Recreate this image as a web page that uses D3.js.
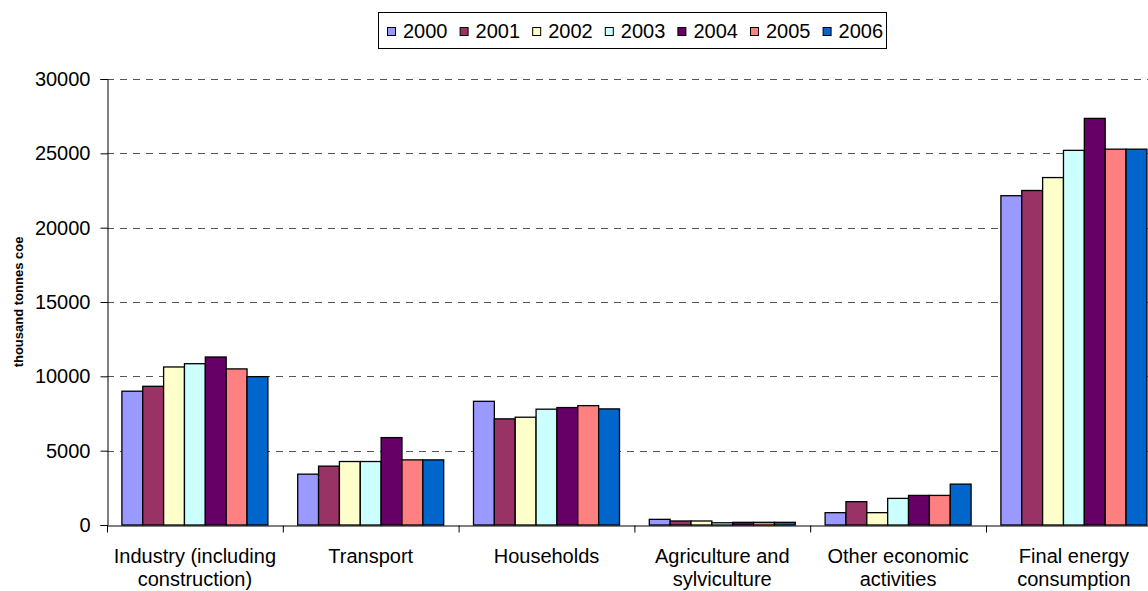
<!DOCTYPE html>
<html>
<head>
<meta charset="utf-8">
<script src="https://cdn.jsdelivr.net/npm/d3@7"></script>
<style>
  html, body { margin: 0; padding: 0; background: #fff; }
  svg { display: block; font-family: "Liberation Sans", Arial, sans-serif; }
</style>
</head>
<body>
<svg id="chart" width="1148" height="591"></svg>
<script>
// ---- data ----
const categories = [
  "Industry (including construction)",
  "Transport",
  "Households",
  "Agriculture and sylviculture",
  "Other economic activities",
  "Final energy consumption"
];
const categoryLines = [
  ["Industry (including", "construction)"],
  ["Transport"],
  ["Households"],
  ["Agriculture and", "sylviculture"],
  ["Other economic", "activities"],
  ["Final energy", "consumption"]
];
const years = ["2000", "2001", "2002", "2003", "2004", "2005", "2006"];
const v2000 = [9000, 3420, 8320, 380, 830, 22150];
const v2001 = [9330, 3960, 7140, 270, 1570, 22500];
const v2002 = [10630, 4270, 7250, 270, 830, 23370];
const v2003 = [10850, 4270, 7790, 150, 1790, 25200];
const v2004 = [11300, 5880, 7900, 180, 1990, 27350];
const v2005 = [10500, 4380, 8030, 180, 1990, 25280];
const v2006 = [9980, 4380, 7810, 180, 2750, 25280];
const seriesValues = [v2000, v2001, v2002, v2003, v2004, v2005, v2006];
const colors = ["#9999FF", "#993366", "#FFFFCC", "#CCFFFF", "#660066", "#FF8080", "#0066CC"];
const yTicks = [0, 5000, 10000, 15000, 20000, 25000, 30000];
const yLabel = "thousand tonnes coe";

// ---- layout ----
const svg = d3.select("#chart");
const plotLeft = 107, plotTop = 79, plotBottom = 525;
const catStep = 175.8;
const plotRight = plotLeft + catStep * categories.length;

const x0 = d3.scaleBand().domain(categories).range([plotLeft, plotRight]).paddingInner(0).paddingOuter(0);
const groupPad = 14.9;
const x1 = d3.scaleBand().domain(years).range([groupPad, x0.bandwidth() - groupPad]).padding(0);
const y = d3.scaleLinear().domain([0, 30000]).range([plotBottom, plotTop]);

// gridlines
svg.append("g")
  .selectAll("line")
  .data(yTicks.filter(d => d > 0))
  .join("line")
  .attr("x1", plotLeft).attr("x2", 1148)
  .attr("y1", d => Math.round(y(d)) + 0.5).attr("y2", d => Math.round(y(d)) + 0.5)
  .attr("stroke", "#555")
  .attr("stroke-width", 1)
  .attr("stroke-dasharray", "7,6");

// bars
const data = [];
categories.forEach((c, ci) => {
  years.forEach((yr, si) => {
    data.push({ cat: c, year: yr, value: seriesValues[si][ci], color: colors[si] });
  });
});
svg.append("g")
  .selectAll("rect")
  .data(data)
  .join("rect")
  .attr("x", d => x0(d.cat) + x1(d.year))
  .attr("y", d => y(d.value))
  .attr("width", x1.bandwidth())
  .attr("height", d => y(0) - y(d.value))
  .attr("fill", d => d.color)
  .attr("stroke", "#000")
  .attr("stroke-width", 1.3);

// y axis
const yAxis = d3.axisLeft(y).tickValues(yTicks).tickSize(7).tickPadding(10).tickFormat(d3.format("d"));
const gy = svg.append("g").attr("transform", `translate(${plotLeft + 0.5},0)`).call(yAxis);
gy.select(".domain").attr("stroke", "#000");
gy.selectAll(".tick line").attr("stroke", "#000");
gy.selectAll(".tick text").attr("font-size", 20).attr("fill", "#000")
  .attr("font-family", "'Liberation Sans', Arial, sans-serif");

// x axis (ticks at category boundaries)
const xb = d3.scaleLinear().domain([0, categories.length]).range([plotLeft, plotRight]);
const xAxis = d3.axisBottom(xb).tickValues(d3.range(categories.length + 1)).tickSize(7).tickSizeOuter(0).tickFormat("");
const gx = svg.append("g").attr("transform", `translate(0,${plotBottom + 0.5})`).call(xAxis);
gx.select(".domain").attr("stroke", "#000");
gx.selectAll(".tick line").attr("stroke", "#000");

// x labels
const lbl = svg.append("g")
  .selectAll("text")
  .data(categories)
  .join("text")
  .attr("x", d => x0(d) + x0.bandwidth() / 2)
  .attr("y", 563)
  .attr("text-anchor", "middle")
  .attr("font-size", 20)
  .attr("fill", "#000");
lbl.each(function(d, i) {
  const t = d3.select(this);
  categoryLines[i].forEach((line, li) => {
    t.append("tspan")
      .attr("x", x0(d) + x0.bandwidth() / 2)
      .attr("dy", li === 0 ? 0 : 23)
      .text(line);
  });
});

// y label
svg.append("text")
  .attr("transform", `translate(23,${(plotTop + plotBottom) / 2}) rotate(-90)`)
  .attr("text-anchor", "middle")
  .attr("font-size", 13)
  .attr("font-weight", "bold")
  .attr("fill", "#000")
  .text(yLabel);

// legend
const lg = svg.append("g");
lg.append("rect")
  .attr("x", 378.5).attr("y", 12.5)
  .attr("width", 508).attr("height", 36)
  .attr("fill", "#fff").attr("stroke", "#000").attr("stroke-width", 1);
const legendX = d3.scaleBand().domain(years).range([385, 385 + 72.6 * years.length]);
const items = lg.selectAll("g.item").data(years).join("g").attr("class", "item")
  .attr("transform", d => `translate(${legendX(d)},0)`);
items.append("rect")
  .attr("x", 2.5).attr("y", 27.5).attr("width", 8).attr("height", 8)
  .attr("fill", (d, i) => colors[i]).attr("stroke", "#000").attr("stroke-width", 1);
items.append("text")
  .attr("x", 18).attr("y", 38)
  .attr("font-size", 20)
  .attr("fill", "#000")
  .text(d => d);
</script>
</body>
</html>
